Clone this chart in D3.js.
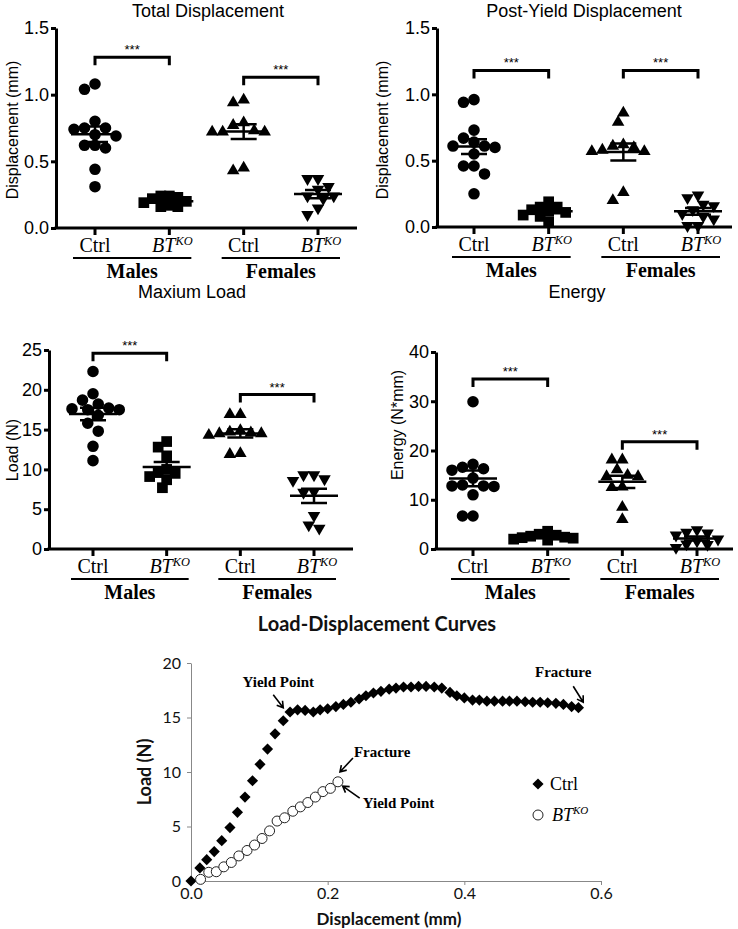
<!DOCTYPE html>
<html>
<head>
<meta charset="utf-8">
<script src="https://cdnjs.cloudflare.com/ajax/libs/d3/7.8.5/d3.min.js"></script>
<style>
body { margin: 0; background: #fff; }
svg { display: block; }
</style>
</head>
<body>
<script>
var w = 738, h = 929

// --- scatter panels: values per group (Males Ctrl, Males BTKO, Females Ctrl, Females BTKO)
var totMaleCtrl = [1.08, 1.04, 0.80, 0.75, 0.75, 0.74, 0.70, 0.69, 0.62, 0.62, 0.60, 0.44, 0.31]
var totMaleKO = [0.24, 0.24, 0.23, 0.22, 0.20, 0.19, 0.17, 0.16, 0.16]
var totFemCtrl = [0.96, 0.94, 0.79, 0.77, 0.73, 0.72, 0.72, 0.72, 0.45, 0.43]
var totFemKO = [0.37, 0.37, 0.31, 0.29, 0.24, 0.24, 0.22, 0.15, 0.10]

var pyMaleCtrl = [0.96, 0.94, 0.73, 0.67, 0.64, 0.61, 0.61, 0.60, 0.55, 0.46, 0.46, 0.40, 0.25]
var pyMaleKO = [0.19, 0.15, 0.15, 0.13, 0.12, 0.11, 0.09, 0.08, 0.04]
var pyFemCtrl = [0.86, 0.79, 0.62, 0.61, 0.60, 0.58, 0.57, 0.57, 0.26, 0.20]
var pyFemKO = [0.24, 0.22, 0.17, 0.16, 0.13, 0.10, 0.08, 0.06, 0.01, 0.01]

var ldMaleCtrl = [22.3, 19.5, 18.7, 18.2, 17.7, 17.6, 17.5, 17.5, 16.8, 15.8, 14.8, 12.9, 11.1]
var ldMaleKO = [13.5, 12.8, 11.7, 10.0, 9.6, 9.5, 9.1, 8.7, 7.7]
var ldFemCtrl = [16.9, 16.9, 14.9, 14.7, 14.6, 14.5, 14.5, 14.3, 12.0, 11.9]
var ldFemKO = [9.3, 9.3, 8.8, 8.6, 7.2, 7.1, 4.2, 3.0, 2.6]

var enMaleCtrl = [29.9, 17.2, 16.6, 16.3, 16.0, 14.4, 13.0, 12.8, 12.8, 12.7, 11.0, 6.7, 6.7]
var enMaleKO = [3.6, 3.0, 2.8, 2.6, 2.4, 2.3, 2.2, 2.0, 1.8]
var enFemCtrl = [18.1, 18.1, 16.1, 15.0, 14.7, 14.7, 12.6, 12.5, 8.5, 6.0]
var enFemKO = [3.9, 3.4, 3.2, 2.8, 2.0, 1.6, 1.0, 0.9, 0.3]

var groupNames = ['Males', 'Females']
var dispTicks = [0, 0.5, 1.0, 1.5]
var loadTicks = [0, 5, 10, 15, 20, 25]
var energyTicks = [0, 10, 20, 30, 40]
// height of the *** brackets (males, females) in data units
var sigTot = [1.28, 1.13]
var sigPy = [1.18, 1.18]
var sigLd = [24.6, 19.4]
var sigEn = [34.5, 21.8]

// --- load-displacement curves
var ctrlDisp = [0, 0.013, 0.023, 0.034, 0.045, 0.057, 0.068, 0.079, 0.090, 0.101, 0.112, 0.123, 0.135, 0.145,
  0.156, 0.167, 0.179, 0.189, 0.200, 0.212, 0.223, 0.234, 0.246, 0.256, 0.267, 0.278, 0.290, 0.300, 0.311,
  0.322, 0.333, 0.344, 0.356, 0.367, 0.379, 0.389, 0.400, 0.412, 0.422, 0.433, 0.444, 0.456, 0.466, 0.477,
  0.489, 0.500, 0.511, 0.522, 0.534, 0.545, 0.557, 0.567]
var ctrlLoad = [0, 1.2, 1.96, 2.7, 3.7, 4.9, 6.3, 7.7, 9.2, 10.7, 12.1, 13.5, 14.7, 15.5,
  15.7, 15.65, 15.5, 15.7, 15.8, 16.0, 16.2, 16.4, 16.7, 17.0, 17.25, 17.4, 17.6, 17.7, 17.8,
  17.8, 17.85, 17.85, 17.8, 17.7, 17.3, 17.0, 16.8, 16.6, 16.6, 16.5, 16.5, 16.5, 16.5, 16.5,
  16.45, 16.4, 16.4, 16.35, 16.3, 16.2, 16.0, 15.9]
var koDisp = [0.014, 0.026, 0.037, 0.048, 0.059, 0.070, 0.082, 0.093, 0.104, 0.115, 0.126, 0.137, 0.149,
  0.160, 0.171, 0.182, 0.193, 0.204, 0.215]
var koLoad = [0.15, 0.8, 0.85, 1.3, 1.7, 2.3, 2.8, 3.3, 3.9, 4.6, 5.5, 5.8, 6.4, 6.8, 7.2, 7.7, 8.2, 8.5, 9.1]

var svg = d3.select('body').append('svg')
    .attr('width', w)
    .attr('height', h)

var sans = '"Liberation Sans", Arial, sans-serif',
    serif = '"Liberation Serif", "Times New Roman", serif'

var panels = [
  { title: 'Total Displacement', ylabel: 'Displacement (mm)', groups: [totMaleCtrl, totMaleKO, totFemCtrl, totFemKO],
    ticks: dispTicks, fmt: d3.format('.1f'), sig: sigTot,
    left: 56, right: 357, top: 28, bottom: 228, cats: [95, 318], titleX: 208, titleY: 17, labelX: 12, labelY: 130 },
  { title: 'Post-Yield Displacement', ylabel: 'Displacement (mm)', groups: [pyMaleCtrl, pyMaleKO, pyFemCtrl, pyFemKO],
    ticks: dispTicks, fmt: d3.format('.1f'), sig: sigPy,
    left: 437, right: 732, top: 28, bottom: 227, cats: [474, 698], titleX: 584, titleY: 17, labelX: 382, labelY: 130 },
  { title: 'Maxium Load', ylabel: 'Load (N)', groups: [ldMaleCtrl, ldMaleKO, ldFemCtrl, ldFemKO],
    ticks: loadTicks, fmt: d3.format('d'), sig: sigLd,
    left: 49, right: 353, top: 350, bottom: 549, cats: [93, 314], titleX: 192, titleY: 298, labelX: 12, labelY: 450 },
  { title: 'Energy', ylabel: 'Energy (N*mm)', groups: [enMaleCtrl, enMaleKO, enFemCtrl, enFemKO],
    ticks: energyTicks, fmt: d3.format('d'), sig: sigEn,
    left: 436, right: 733, top: 352, bottom: 549, cats: [473, 697], titleX: 577, titleY: 298, labelX: 397, labelY: 425 }
]

// marker per group: circle, square, triangle up, triangle down
var shapes = [
  { type: d3.symbolCircle, size: 105, rot: 0, gap: 10.5 },
  { type: d3.symbolSquare, size: 115, rot: 0, gap: 8.5 },
  { type: d3.symbolTriangle, size: 68, rot: 0, gap: 10.5 },
  { type: d3.symbolTriangle, size: 68, rot: 180, gap: 10.5 }
]

//simple beeswarm: highest value first, slide sideways until it doesn't collide
function swarm(vals, y, cx, gap) {
  var placed = []
  vals.slice().sort(d3.descending).forEach(function(v) {
    var py = y(v)
    for (var k = 0; k < 40; k++) {
      var off = (k % 2 ? -1 : 1) * Math.ceil(k / 2) * gap / 2
      var ok = placed.every(function(q) {
        return Math.hypot(q.x - (cx + off), q.y - py) >= gap
      })
      if (ok) {
        placed.push({ x: cx + off, y: py, v: v })
        break
      }
    }
  })
  return placed
}

function koLabel(sel, x, y, size) {
  var t = sel.append('text')
      .attr('x', x)
      .attr('y', y)
      .attr('text-anchor', 'middle')
      .style('font-family', serif)
      .style('font-size', size + 'px')
      .style('font-style', 'italic')
  t.append('tspan').text('BT')
  t.append('tspan').attr('dy', -size * 0.35).style('font-size', (size * 0.62) + 'px').text('KO')
  return t
}

function drawPanel(p) {
  var g = svg.append('g')
  var y = d3.scaleLinear().domain([0, d3.max(p.ticks)]).range([p.bottom, p.top])
  var x = d3.scalePoint().domain([0, 1, 2, 3]).range(p.cats)

  g.append('text')
      .attr('x', p.titleX)
      .attr('y', p.titleY)
      .attr('text-anchor', 'middle')
      .style('font-family', sans)
      .style('font-size', '18px')
      .text(p.title)

  g.append('text')
      .attr('transform', 'translate(' + p.labelX + ',' + p.labelY + ') rotate(-90)')
      .attr('text-anchor', 'middle')
      .attr('dy', '0.35em')
      .style('font-family', sans)
      .style('font-size', '16px')
      .text(p.ylabel)

  var yAxis = g.append('g')
      .attr('transform', 'translate(' + p.left + ',0)')
      .call(d3.axisLeft(y).tickValues(p.ticks).tickFormat(p.fmt).tickSize(5).tickSizeOuter(0).tickPadding(2))
  yAxis.select('.domain').attr('stroke-width', 3)
  yAxis.selectAll('.tick line').attr('stroke-width', 3)
  yAxis.selectAll('.tick text').style('font-family', sans).style('font-size', '18px').attr('fill', '#000')

  // x axis line with category ticks
  g.append('line')
      .attr('x1', p.left - 1.5).attr('x2', p.right)
      .attr('y1', p.bottom).attr('y2', p.bottom)
      .attr('stroke', '#000').attr('stroke-width', 3)
  g.selectAll('.xtick').data([0, 1, 2, 3]).enter().append('line')
      .attr('x1', function(d) { return x(d) }).attr('x2', function(d) { return x(d) })
      .attr('y1', p.bottom).attr('y2', p.bottom + 7)
      .attr('stroke', '#000').attr('stroke-width', 3)

  // category labels
  ;[0, 2].forEach(function(i) {
    g.append('text')
        .attr('x', x(i)).attr('y', p.bottom + 24)
        .attr('text-anchor', 'middle')
        .style('font-family', serif).style('font-size', '20px')
        .text('Ctrl')
    koLabel(g, x(i + 1) + 3, p.bottom + 24, 20)
    g.append('line')
        .attr('x1', x(i) - 22).attr('x2', x(i + 1) + 22)
        .attr('y1', p.bottom + 30).attr('y2', p.bottom + 30)
        .attr('stroke', '#000').attr('stroke-width', 2)
    g.append('text')
        .attr('x', (x(i) + x(i + 1)) / 2).attr('y', p.bottom + 50)
        .attr('text-anchor', 'middle')
        .style('font-family', serif).style('font-size', '20px').style('font-weight', 'bold')
        .text(groupNames[i / 2])
  })

  // points
  p.groups.forEach(function(vals, i) {
    var s = shapes[i]
    var pts = swarm(vals, y, x(i), s.gap)
    g.selectAll(null).data(pts).enter().append('path')
        .attr('d', d3.symbol().type(s.type).size(s.size))
        .attr('transform', function(d) {
          return 'translate(' + d.x + ',' + d.y + ') rotate(' + s.rot + ')'
        })
        .attr('fill', '#000')

    var m = d3.mean(vals), sem = d3.deviation(vals) / Math.sqrt(vals.length)
    var cx = x(i)
    g.append('line')
        .attr('x1', cx - 24).attr('x2', cx + 24)
        .attr('y1', y(m)).attr('y2', y(m))
        .attr('stroke', '#000').attr('stroke-width', 2.5)
    g.append('path')
        .attr('d', 'M' + (cx - 13) + ',' + y(m + sem) + 'H' + (cx + 13) +
          'M' + cx + ',' + y(m + sem) + 'V' + y(m - sem) +
          'M' + (cx - 13) + ',' + y(m - sem) + 'H' + (cx + 13))
        .attr('fill', 'none').attr('stroke', '#000').attr('stroke-width', 2.5)
  })

  // significance brackets
  p.sig.forEach(function(v, k) {
    var x1 = x(k * 2), x2 = x(k * 2 + 1), yy = y(v)
    g.append('path')
        .attr('d', 'M' + x1 + ',' + (yy + 8) + 'V' + yy + 'H' + x2 + 'V' + (yy + 8))
        .attr('fill', 'none').attr('stroke', '#000').attr('stroke-width', 3)
    g.append('text')
        .attr('x', (x1 + x2) / 2).attr('y', yy - 3)
        .attr('text-anchor', 'middle')
        .style('font-family', sans).style('font-size', '13px')
        .text('***')
  })
}

panels.forEach(drawPanel)

// --- load-displacement curves
var cal = 'Lato, "Open Sans", sans-serif'
var lg = svg.append('g')
var lx = d3.scaleLinear().domain([0, 0.6]).range([191, 601])
var ly = d3.scaleLinear().domain([0, 20]).range([881, 663])

lg.append('text')
    .attr('x', 377).attr('y', 631)
    .attr('text-anchor', 'middle')
    .style('font-family', cal).style('font-size', '20px').style('font-weight', 'bold')
    .attr('fill', '#111')
    .text('Load-Displacement Curves')

var ax = lg.append('g').attr('transform', 'translate(0,881)')
    .call(d3.axisBottom(lx).tickValues([0, 0.2, 0.4, 0.6]).tickFormat(d3.format('.1f')).tickSize(4).tickSizeOuter(0).tickPadding(3))
var ay = lg.append('g').attr('transform', 'translate(191,0)')
    .call(d3.axisLeft(ly).tickValues([0, 5, 10, 15, 20]).tickSize(4).tickSizeOuter(0).tickPadding(6))
;[ax, ay].forEach(function(a) {
  a.select('.domain').attr('stroke', '#888')
  a.selectAll('.tick line').attr('stroke', '#888')
  a.selectAll('.tick text').style('font-family', cal).style('font-size', '16px').attr('fill', '#111')
})

lg.append('text')
    .attr('x', 389).attr('y', 925)
    .attr('text-anchor', 'middle')
    .style('font-family', cal).style('font-size', '17px').style('font-weight', 'bold')
    .attr('fill', '#111')
    .text('Displacement (mm)')
lg.append('text')
    .attr('transform', 'translate(145,772) rotate(-90)')
    .attr('text-anchor', 'middle')
    .attr('dy', '0.35em')
    .style('font-family', cal).style('font-size', '18px').style('font-weight', 'bold')
    .attr('fill', '#111')
    .text('Load (N)')

var diamond = d3.symbol().type(d3.symbolSquare).size(62)
lg.selectAll('.ctrl').data(ctrlDisp).enter().append('path')
    .attr('d', diamond)
    .attr('transform', function(d, i) {
      return 'translate(' + lx(d) + ',' + ly(ctrlLoad[i]) + ') rotate(45)'
    })
    .attr('fill', '#000')
lg.selectAll('.ko').data(koDisp).enter().append('circle')
    .attr('cx', function(d) { return lx(d) })
    .attr('cy', function(d, i) { return ly(koLoad[i]) })
    .attr('r', 5)
    .attr('fill', '#fff').attr('stroke', '#222').attr('stroke-width', 1)

// annotations: arrow tip in data units, text and arrow tail as pixel offsets
var notes = [
  { text: 'Yield Point', x: 0.135, y: 15.9, tx: -5, ty: -21, anchor: 'middle', sx: -10, sy: -13 },
  { text: 'Fracture', x: 0.574, y: 16.4, tx: -20, ty: -25, anchor: 'middle', sx: -10, sy: -16 },
  { text: 'Fracture', x: 0.218, y: 10.0, tx: 14, ty: -15, anchor: 'start', sx: 13, sy: -14 },
  { text: 'Yield Point', x: 0.222, y: 8.7, tx: 20, ty: 22, anchor: 'start', sx: 17, sy: 12 }
]
notes.forEach(function(n) {
  var x2 = lx(n.x), y2 = ly(n.y), x1 = x2 + n.sx, y1 = y2 + n.sy
  var a = Math.atan2(y2 - y1, x2 - x1), L = 7, sp = 0.55
  lg.append('path')
      .attr('d', 'M' + x1 + ',' + y1 + 'L' + x2 + ',' + y2 +
        'M' + (x2 - L * Math.cos(a - sp)) + ',' + (y2 - L * Math.sin(a - sp)) +
        'L' + x2 + ',' + y2 +
        'L' + (x2 - L * Math.cos(a + sp)) + ',' + (y2 - L * Math.sin(a + sp)))
      .attr('fill', 'none').attr('stroke', '#000').attr('stroke-width', 1.6)
  lg.append('text')
      .attr('x', x2 + n.tx).attr('y', y2 + n.ty)
      .attr('text-anchor', n.anchor)
      .style('font-family', serif).style('font-size', '15px').style('font-weight', 'bold')
      .text(n.text)
})

// legend
lg.append('path').attr('d', diamond).attr('transform', 'translate(538,784) rotate(45)').attr('fill', '#000')
lg.append('text').attr('x', 550).attr('y', 790)
    .style('font-family', serif).style('font-size', '18px').text('Ctrl')
lg.append('circle').attr('cx', 538).attr('cy', 815).attr('r', 5)
    .attr('fill', '#fff').attr('stroke', '#222')
var kt = lg.append('text').attr('x', 552).attr('y', 821)
    .style('font-family', serif).style('font-size', '18px').style('font-style', 'italic')
kt.append('tspan').text('BT')
kt.append('tspan').attr('dy', -7).style('font-size', '11px').text('KO')
</script>
</body>
</html>
